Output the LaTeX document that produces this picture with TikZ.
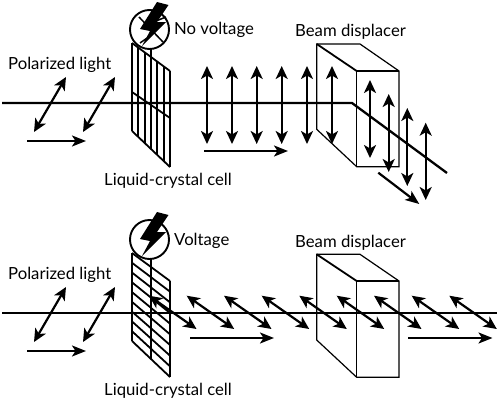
\documentclass[tikz,border=0pt]{standalone}
\usepackage{fontspec}
\setmainfont{Lato}
\usetikzlibrary{arrows.meta}
\tikzset{
  beam/.style={line width=2.3pt},
  thinedge/.style={line width=1.2pt},
  gridline/.style={line width=1.8pt},
  dbl/.style={line width=2.2pt,{Stealth[length=13pt,width=12pt,inset=3.5pt]}-{Stealth[length=13pt,width=12pt,inset=3.5pt]}},
  sgl/.style={line width=2.2pt,-{Stealth[length=14pt,width=11pt,inset=3.5pt]}},
  lbl/.style={anchor=base west,inner sep=0pt,font=\fontsize{16.7}{20}\selectfont},
}
\newcommand{\polarized}{
  \draw[dbl] (66,77) -- (34,132);
  \draw[dbl] (115,77) -- (83,132);
  \draw[sgl] (27,141) -- (86,141);
  \node[lbl] (pol) at (8,69) {Polarized light};
  \node[lbl] (lcc) at (104,185) {Liquid-crystal cell};
}
\newcommand{\source}{
  \draw[line width=1.9pt] (149.5,29.5) circle (19.5);
  \fill (157,2) -- (168.5,5) -- (157,22) -- (166,22) -- (142,46) -- (150,31) -- (140,29) -- cycle;
}
\begin{document}
\begin{tikzpicture}[x=1pt,y=-1pt]
\useasboundingbox (0,0) rectangle (500,402);
% upper panel
\polarized
\source
\draw[line width=1.5pt] (139,17) -- (163,42);
\draw[line width=1.5pt] (140,43) -- (150,36);
\draw[line width=1.5pt] (156,21) -- (166,17);
\node[lbl] (nv) at (174,34) {No voltage};
\foreach \x in {132,138.3,144.6,151,157.3,163.7,170}{
  \pgfmathsetmacro{\yt}{43+(\x-132)*28/38}
  \pgfmathsetmacro{\yb}{131+(\x-132)*36/38}
  \draw[gridline] (\x,\yt) -- (\x,\yb);
}
\draw[gridline] (132,43) -- (170,71);
\draw[gridline] (132,131) -- (170,167);
\draw[gridline] (132,92) -- (170,118);
\draw[line width=1.2pt] (151,49) -- (151,57);
\draw[beam] (2,103) -- (352,103) -- (447,173);
\foreach \x in {207,232,256.7,281.7,307,332}{ \draw[dbl] (\x,66) -- (\x,144); }
\draw[sgl] (204,151) -- (288,151);
\draw[thinedge] (316.7,44) -- (360,44) -- (399,71) -- (399,166.7) -- (356.7,166.7) -- (316.7,129.3) -- cycle;
\draw[thinedge] (356.7,71) -- (399,71);
\draw[thinedge] (356.7,71) -- (356.7,166.7);
\draw[line width=1.8pt] (316.7,44) -- (356.7,71);
\node[lbl] (bd) at (295,36.7) {Beam displacer};
\draw[dbl] (370,80) -- (370,158);
\draw[dbl] (388.7,94) -- (388.7,172);
\draw[dbl] (407.3,108) -- (407.3,186);
\draw[dbl] (425.7,122.7) -- (425.7,200);
\draw[sgl] (378.3,172.7) -- (419.3,204);
% lower panel
\begin{scope}[yshift=-210pt]
\polarized
\source
\node[lbl] (v) at (174,35) {Voltage};
\draw[gridline] (132,43) -- (132,131);
\draw[gridline] (151,49) -- (151,149);
\draw[gridline] (170,71) -- (170,167);
\foreach \i in {0,...,9}{
  \pgfmathsetmacro{\yl}{43+\i*88/9}
  \pgfmathsetmacro{\yr}{71+\i*96/9}
  \draw[gridline] (132,\yl) -- (170,\yr);
}
\draw[beam] (2,103) -- (497,103);
\foreach \x in {149,186.7,224,261.7,299.3,336.7,374,411.7,449.3}{
  \draw[dbl] (\x,85.7) -- ({\x+47.5},119);
}
\draw[sgl] (190,128) -- (274,128);
\draw[sgl] (408,128) -- (492.5,128);
\draw[thinedge] (316.7,44.3) -- (360,44.3) -- (399,71) -- (399,167.3) -- (356.7,167.3) -- (316.7,130) -- cycle;
\draw[thinedge] (356.7,71) -- (399,71);
\draw[thinedge] (356.7,71) -- (356.7,167.3);
\draw[line width=1.8pt] (316.7,44.3) -- (356.7,71);
\node[lbl] (bd2) at (295,37) {Beam displacer};
\end{scope}
\end{tikzpicture}
\end{document}
